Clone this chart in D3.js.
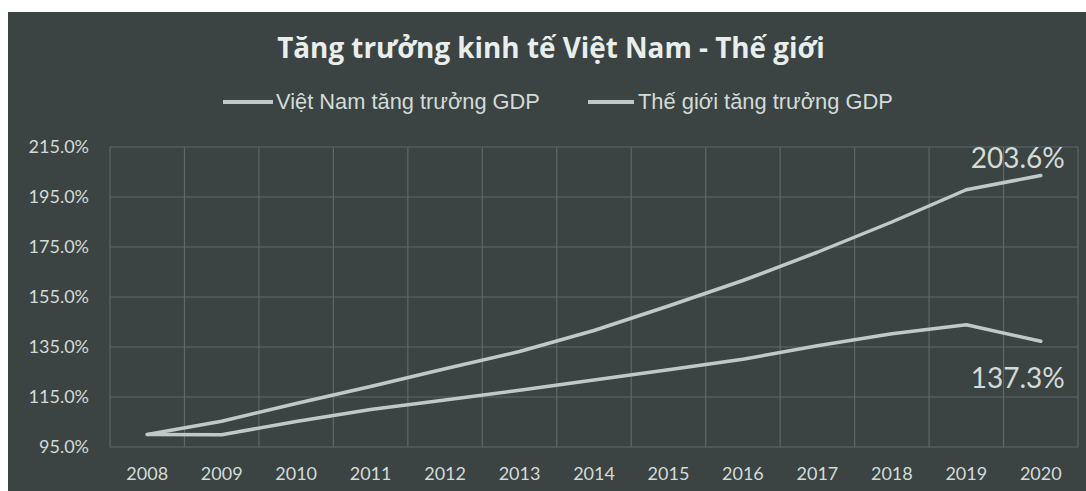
<!DOCTYPE html>
<html>
<head>
<meta charset="utf-8">
<script src="https://cdn.jsdelivr.net/npm/d3@7"></script>
<style>
  html, body { margin: 0; padding: 0; background: #ffffff; }
  svg { display: block; }
</style>
</head>
<body>
<svg id="chart" width="1086" height="491"></svg>
<script>
// Cumulative GDP index, 2008 = 100%
const years = ["2008","2009","2010","2011","2012","2013","2014","2015","2016","2017","2018","2019","2020"];
const vietnam = [100, 105.3, 112.4, 119.2, 126.3, 133.2, 141.6, 151.4, 161.6, 172.9, 185.0, 197.9, 203.6];
const world   = [100, 99.9, 105.2, 110.0, 113.8, 117.7, 121.8, 125.9, 130.1, 135.5, 140.3, 143.9, 137.3];
const yTicks  = [95, 115, 135, 155, 175, 195, 215];
const seriesNames = ["Việt Nam tăng trưởng GDP", "Thế giới tăng trưởng GDP"];
const titleText = "Tăng trưởng kinh tế Việt Nam - Thế giới";

const W = 1086, H = 491;
const panel = { x: 8, y: 12 };
const plot = { left: 110, right: 1078, top: 147, bottom: 447 };

const bg = "#3b4442";
const textCol = "#d3dbd9";
const lineCol = "#bfcac8";
const gridCol = "#5e6967";

const svg = d3.select("#chart");

// dark panel behind the whole chart
svg.append("rect")
  .attr("x", panel.x).attr("y", panel.y)
  .attr("width", W - panel.x).attr("height", H - panel.y)
  .attr("fill", bg);

const x = d3.scaleBand().domain(years).range([plot.left, plot.right]).padding(0);
const y = d3.scaleLinear().domain([95, 215]).range([plot.bottom, plot.top]);
const cx = d => x(d) + x.bandwidth() / 2;

// horizontal gridlines
svg.append("g")
  .selectAll("line").data(yTicks).join("line")
  .attr("x1", plot.left).attr("x2", plot.right)
  .attr("y1", d => y(d)).attr("y2", d => y(d))
  .attr("stroke", gridCol).attr("stroke-width", 1.2);

// vertical gridlines on category boundaries
const bounds = years.map(d => x(d)).concat([x(years[years.length - 1]) + x.bandwidth()]);
svg.append("g")
  .selectAll("line").data(bounds).join("line")
  .attr("x1", d => d).attr("x2", d => d)
  .attr("y1", plot.top).attr("y2", plot.bottom)
  .attr("stroke", gridCol).attr("stroke-width", 1.2);

// y axis labels
const yAxis = d3.axisLeft(y).tickValues(yTicks).tickSize(0).tickPadding(21)
  .tickFormat(d => d.toFixed(1) + "%");
const gy = svg.append("g").attr("transform", `translate(${plot.left},0)`).call(yAxis);
gy.select(".domain").remove();
gy.selectAll("text")
  .attr("fill", textCol).attr("font-family", "Lato, 'Open Sans', sans-serif")
  .attr("font-size", 18);

// x axis labels
const xAxis = d3.axisBottom(x).tickSize(0).tickPadding(20);
const gx = svg.append("g").attr("transform", `translate(0,${plot.bottom})`).call(xAxis);
gx.select(".domain").remove();
gx.selectAll("text")
  .attr("fill", textCol).attr("font-family", "Lato, 'Open Sans', sans-serif")
  .attr("font-size", 18);

// series lines
const line = d3.line().x((d, i) => cx(years[i])).y(d => y(d));
[world, vietnam].forEach(vals => {
  svg.append("path")
    .datum(vals)
    .attr("d", line)
    .attr("fill", "none")
    .attr("stroke", lineCol)
    .attr("stroke-width", 3.5)
    .attr("stroke-linejoin", "round")
    .attr("stroke-linecap", "round");
});

// end-of-line value labels
const last = years.length - 1;
svg.append("text")
  .attr("x", cx(years[last]) + 24).attr("y", y(vietnam[last]) - 8)
  .attr("text-anchor", "end")
  .attr("fill", textCol).attr("font-family", "Lato, 'Open Sans', sans-serif")
  .attr("font-size", 28)
  .text(vietnam[last].toFixed(1) + "%");
svg.append("text")
  .attr("x", cx(years[last]) + 24).attr("y", y(world[last]) + 47)
  .attr("text-anchor", "end")
  .attr("fill", textCol).attr("font-family", "Lato, 'Open Sans', sans-serif")
  .attr("font-size", 28)
  .text(world[last].toFixed(1) + "%");

// title, sized to its span
const title = svg.append("text")
  .attr("x", 551).attr("y", 58)
  .attr("text-anchor", "middle")
  .attr("fill", "#e9eeec")
  .attr("font-family", "'Open Sans', 'Noto Sans', sans-serif")
  .attr("font-weight", "bold")
  .attr("font-size", 26)
  .text(titleText);
const tw = title.node().getComputedTextLength();
title.attr("font-size", 26 * 548 / tw);

// legend
const legendItems = [
  { name: seriesNames[0], x0: 223, x1: 273, tx: 276, w: 264 },
  { name: seriesNames[1], x0: 588, x1: 634, tx: 638, w: 255 }
];
const lg = svg.append("g");
legendItems.forEach(it => {
  lg.append("line")
    .attr("x1", it.x0).attr("x2", it.x1).attr("y1", 102).attr("y2", 102)
    .attr("stroke", lineCol).attr("stroke-width", 4);
  const t = lg.append("text")
    .attr("x", it.tx).attr("y", 109)
    .attr("fill", textCol)
    .attr("font-family", "'Liberation Sans', Arial, sans-serif")
    .attr("font-size", 20)
    .text(it.name);
  const w = t.node().getComputedTextLength();
  t.attr("font-size", 20 * it.w / w);
});
</script>
</body>
</html>
